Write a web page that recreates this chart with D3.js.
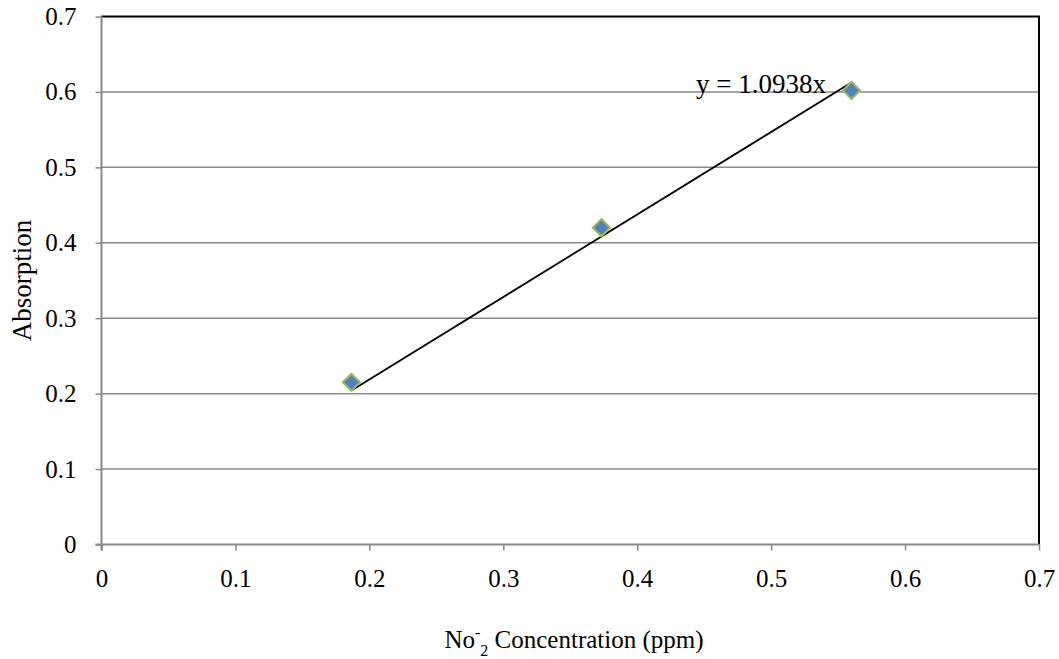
<!DOCTYPE html>
<html><head><meta charset="utf-8">
<script src="https://cdn.jsdelivr.net/npm/d3@7"></script>
<style>body{margin:0;background:#fff}</style>
</head><body>
<svg id="c" width="1059" height="659"></svg>
<script>
const xValues = [0.1866, 0.3733, 0.56];
const yValues = [0.215, 0.42, 0.602];
const slope = 1.0938;
const xTicks = [0,0.1,0.2,0.3,0.4,0.5,0.6,0.7];
const yTicks = [0,0.1,0.2,0.3,0.4,0.5,0.6,0.7];
const equationLabel = "y = 1.0938x";

const FS = 25;
const FONT = "'Liberation Serif', 'Times New Roman', serif";
const svg = d3.select("#c");
const L=101.5, R=1039, T=16.5, B=544.5;
const x = d3.scaleLinear().domain([0,0.7]).range([L,R]);
const y = d3.scaleLinear().domain([0,0.7]).range([B,T]);

// gridlines
svg.append("g").selectAll("line").data(yTicks.filter(d=>d>0 && d<0.7)).join("line")
  .attr("x1",L).attr("x2",R).attr("y1",d=>y(d)).attr("y2",d=>y(d))
  .attr("stroke","#8a8a8a").attr("stroke-width",1.5);

// border top/right
svg.append("path").attr("d",`M${L},${T}H${R}V${B}`).attr("fill","none").attr("stroke","#000").attr("stroke-width",2);

const fmt = d=> d===0?"0":d3.format(".1f")(d);
const xAxis = svg.append("g").attr("transform",`translate(0,${B})`)
  .call(d3.axisBottom(x).tickValues(xTicks).tickFormat(fmt).tickSize(6).tickPadding(19));
const yAxis = svg.append("g").attr("transform",`translate(${L},0)`)
  .call(d3.axisLeft(y).tickValues(yTicks).tickFormat(fmt).tickSize(6).tickPadding(19));
[xAxis,yAxis].forEach(g=>{
  g.attr("font-size",FS).attr("font-family",FONT);
  g.select(".domain").attr("stroke","#8a8a8a").attr("stroke-width",2);
  g.selectAll(".tick line").attr("stroke","#8a8a8a").attr("stroke-width",1.5);
  g.selectAll("text").attr("font-size",FS).attr("font-family",FONT).style("font-family",FONT).attr("fill","#000");
});
yAxis.select(".domain").attr("d",`M0,${B+6}V${T}`);
xAxis.select(".domain").attr("d",`M${L-6},0H${R}`);

// trendline
const x0=d3.min(xValues), x1=d3.max(xValues);
svg.append("line").attr("x1",x(x0)).attr("y1",y(slope*x0)).attr("x2",x(x1)).attr("y2",y(slope*x1))
  .attr("stroke","#000").attr("stroke-width",1.8);

// points
svg.append("g").selectAll("path").data(xValues.map((d,i)=>[d,yValues[i]])).join("path")
  .attr("d",d3.symbol().type(d3.symbolDiamond2).size(190))
  .attr("transform",d=>`translate(${x(d[0])},${y(d[1])})`)
  .attr("fill","#4f81bd").attr("stroke","#9bbb59").attr("stroke-width",2);

// equation
svg.append("text").attr("x",826).attr("y",y(0.6)+1).attr("text-anchor","end")
  .style("font-family",FONT).attr("font-size",27).text(equationLabel);

// axis titles
svg.append("text").attr("transform",`translate(31,${(T+B)/2}) rotate(-90)`).attr("text-anchor","middle")
  .style("font-family",FONT).attr("font-size",27).text("Absorption");
const xt = svg.append("text").attr("x",574).attr("y",648).attr("text-anchor","middle")
  .style("font-family",FONT).attr("font-size",FS);
xt.append("tspan").text("No");
xt.append("tspan").attr("dy",-10).attr("font-size",16).text("-");
xt.append("tspan").attr("dy",18).attr("font-size",16).text("2");
xt.append("tspan").attr("dy",-8).text(" Concentration (ppm)");
</script>
</body></html>
